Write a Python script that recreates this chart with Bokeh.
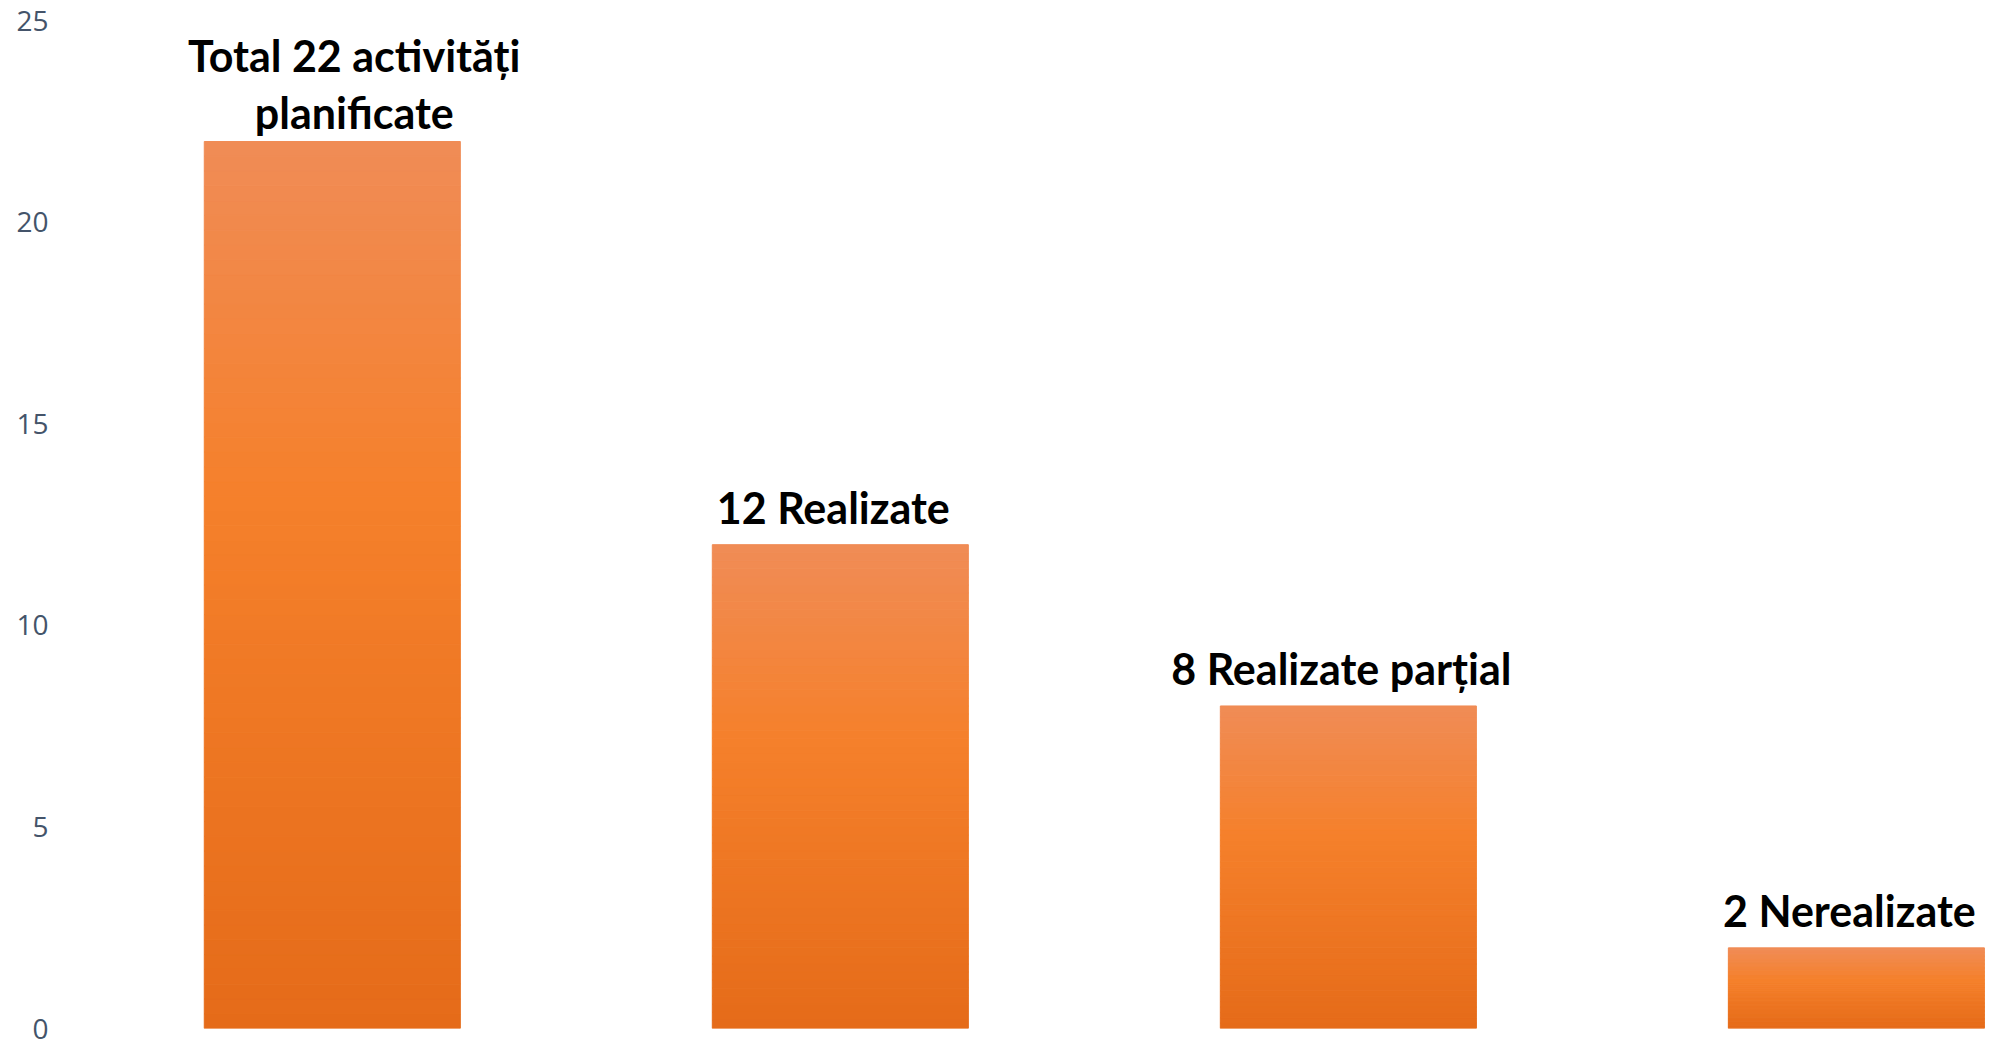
import numpy as np
from bokeh.plotting import figure
from bokeh.models import Range1d, FixedTicker, ColumnDataSource
from bokeh.core.properties import value
from bokeh.embed import file_html
from bokeh.resources import INLINE

# ---- data ----
categories = ["Total planificate", "Realizate", "Realizate parțial", "Nerealizate"]
values = [22, 12, 8, 2]
bar_labels = ["Total 22 activități\nplanificate", "12 Realizate", "8 Realizate parțial", "2 Nerealizate"]
y_ticks = [0, 5, 10, 15, 20, 25]

# ---- styling helpers ----
stops = [(0.0, (240, 140, 86)), (0.40, (245, 128, 43)), (1.0, (229, 107, 25))]


def grad_color(t):
    for (t0, c0), (t1, c1) in zip(stops[:-1], stops[1:]):
        if t <= t1:
            f = (t - t0) / (t1 - t0)
            c = [round(a + (b - a) * f) for a, b in zip(c0, c1)]
            return "#%02x%02x%02x" % tuple(c)
    return "#%02x%02x%02x" % stops[-1][1]


p = figure(width=1990, height=1040, output_backend="svg", toolbar_location=None,
           x_range=Range1d(-0.535, 3.264), y_range=Range1d(0, 25.15),
           min_border_left=60, min_border_right=0, min_border_top=14, min_border_bottom=12)

p.outline_line_color = None
p.xgrid.visible = False
p.ygrid.visible = False
p.xaxis.visible = False
p.background_fill_color = "white"
p.border_fill_color = "white"

ax = p.yaxis[0]
ax.ticker = FixedTicker(ticks=y_ticks)
ax.axis_line_color = None
ax.major_tick_line_color = None
ax.minor_tick_line_color = None
ax.major_tick_out = 0
ax.major_tick_in = 0
ax.major_label_standoff = 12
ax.major_label_text_font = "Open Sans"
ax.major_label_text_font_size = "28px"
ax.major_label_text_color = "#44546A"

# gradient bars built from stacked slices of each value
N = 60
bw = 0.504
xs = list(range(len(values)))
lefts, rights, bottoms, tops, colors = [], [], [], [], []
for i, v in zip(xs, values):
    for k in range(N):
        b = v * k / N
        t = v * (k + 1) / N
        frac_from_top = 1 - (k + 0.5) / N
        lefts.append(i - bw / 2)
        rights.append(i + bw / 2)
        bottoms.append(b)
        tops.append(t)
        colors.append(grad_color(frac_from_top))

p.quad(left=lefts, right=rights, bottom=bottoms, top=tops,
       fill_color=colors, line_color=colors, line_width=1)

yoff = [-3 if "\n" in s else -12 for s in bar_labels]
xoff = [22 if "\n" in s else -7 for s in bar_labels]
src = ColumnDataSource(dict(x=xs, y=values, text=bar_labels, yo=yoff, xo=xoff))
p.text(x="x", y="y", text="text", source=src, text_align="center",
       text_baseline="bottom", y_offset="yo", x_offset="xo", text_font=value("Lato"),
       text_font_style="bold", text_font_size="43px", text_color="black",
       text_line_height=1.13)

open("out.html", "w").write(file_html(p, INLINE))
